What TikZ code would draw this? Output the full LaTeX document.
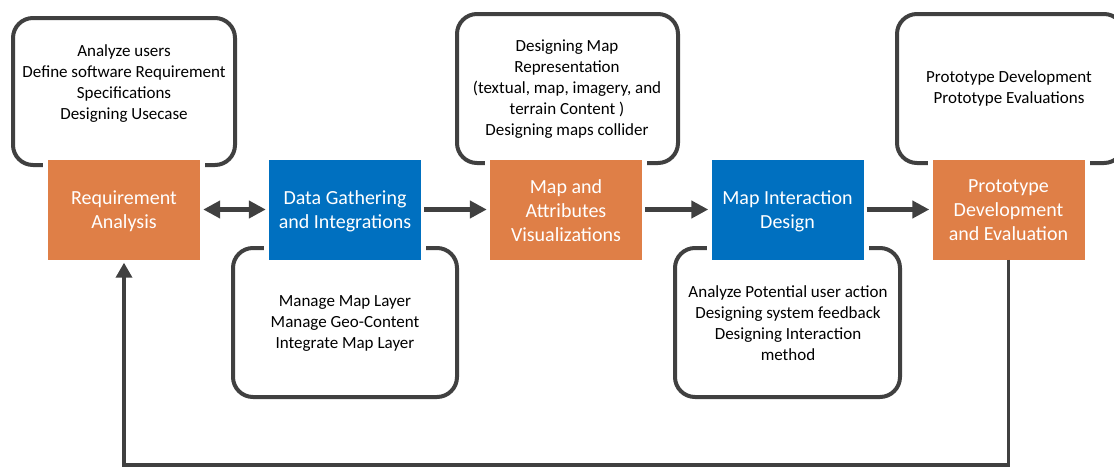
\documentclass[tikz,border=0pt]{standalone}
\usepackage{fontspec}
\setmainfont{Carlito}
\usetikzlibrary{arrows.meta}
\definecolor{orng}{HTML}{DF7F47}
\definecolor{blu}{HTML}{0070C0}
\definecolor{dgray}{HTML}{404040}
\newcommand{\lowered}[2]{\raisebox{-#1}[\height][\depth]{\parbox{150pt}{\centering #2}}}
\tikzset{
  callout/.style={draw=dgray, line width=4pt, rounded corners=20pt, fill=white},
  stepbox/.style={rectangle, minimum width=152pt, minimum height=100pt, inner sep=0pt,
     text=white, align=center, font=\fontsize{20}{24}\selectfont,
     preaction={draw=white, line width=10pt}},
  obox/.style={stepbox, fill=orng},
  bbox/.style={stepbox, fill=blu},
  ctext/.style={align=center, text=black, font=\fontsize{17}{21}\selectfont, inner sep=0pt},
  flow/.style={draw=dgray, line width=4.5pt, -{Triangle[length=17pt,width=17pt]}, shorten >=3pt, shorten <=3pt},
}
\begin{document}
\begin{tikzpicture}[x=1pt,y=-1pt]
\useasboundingbox (0,0) rectangle (1114,469);
% callouts
\draw[callout] (13,18) rectangle (235,165);
\draw[callout] (233,248) rectangle (457,397);
\draw[callout] (457,14) rectangle (678,163);
\draw[callout] (675,248) rectangle (900,397);
\draw[callout] (897,14) rectangle (1124,163);
\node[ctext] (t1) at (124,83.5) {Analyze users\\Define software Requirement\\Specifications\\Designing Usecase};
\node[ctext] (t2) at (345,324) {Manage Map Layer\\Manage Geo-Content\\Integrate Map Layer};
\node[ctext] (t3) at (567,89) {Designing Map\\Representation\\(textual, map, imagery, and\\terrain Content )\\Designing maps collider};
\node[ctext] (t4) at (788,323) {Analyze Potential user action\\Designing system feedback\\Designing Interaction\\method};
\node[ctext] (t5) at (1009,88.5) {Prototype Development\\Prototype Evaluations};
% boxes
\node[obox] (r) at (124,209.5) {\lowered{2pt}{Requirement\\Analysis}};
\node[bbox] (d) at (345,209.5) {\lowered{2pt}{Data Gathering\\and Integrations}};
\node[obox] (m) at (566,209.5) {\lowered{1pt}{Map and\\Attributes\\Visualizations}};
\node[bbox] (i) at (787.5,209.5) {\lowered{2pt}{Map Interaction\\Design}};
\node[obox] (p) at (1008.5,209.5) {\lowered{1pt}{Prototype\\Development\\and Evaluation}};
% connectors
\draw[flow, {Triangle[length=17pt,width=17pt]}-{Triangle[length=17pt,width=17pt]}] (r.east) -- (d.west);
\draw[flow] (d.east) -- (m.west);
\draw[flow] (m.east) -- (i.west);
\draw[flow] (i.east) -- (p.west);
\coordinate (b1) at (1008.5,465);
\coordinate (b2) at (124,465);
\draw[draw=dgray, line width=3.5pt, -{Triangle[length=15pt,width=16pt]}, shorten >=3pt] (p.south) -- (b1) -- (b2) -- (r.south);
\end{tikzpicture}
\end{document}
